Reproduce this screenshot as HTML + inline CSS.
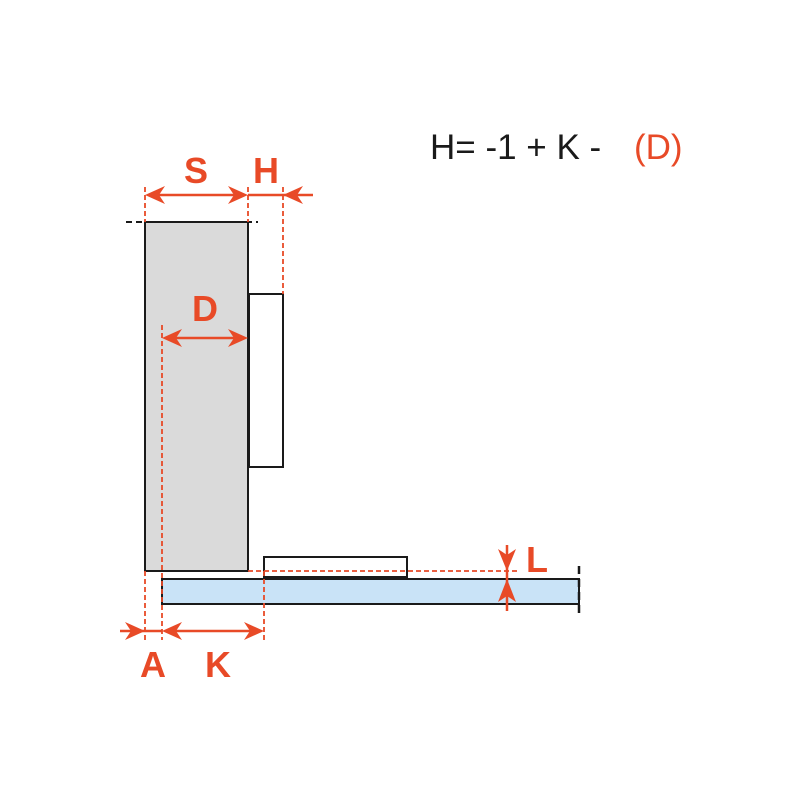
<!DOCTYPE html>
<html><head><meta charset="utf-8"><style>html,body{margin:0;padding:0;background:#fff}svg{display:block}</style></head>
<body>
<svg width="800" height="800" viewBox="0 0 800 800" xmlns="http://www.w3.org/2000/svg">
<style>
.r{stroke:#e84a27;stroke-width:2.5;fill:none}
.rd{stroke:#e84a27;stroke-width:1.8;fill:none;stroke-dasharray:5,3}
.k{stroke:#1a1a1a;stroke-width:2}
.a{fill:#e84a27}
.t{font-family:"Liberation Sans",sans-serif;font-weight:bold;fill:#e84a27;font-size:36px;text-anchor:middle}
</style>
<rect x="145" y="222" width="103" height="349" fill="#dadada" class="k"/>
<rect x="249" y="294" width="34" height="173" fill="#fff" class="k"/>
<rect x="162" y="579" width="417" height="25" fill="#c9e3f7" class="k"/>
<rect x="264" y="557" width="143" height="20" fill="#fff" class="k"/>
<line x1="126" y1="222" x2="258" y2="222" stroke="#1a1a1a" stroke-width="2" stroke-dasharray="6,4"/>
<line x1="579" y1="566" x2="579" y2="616" stroke="#1a1a1a" stroke-width="2.5" stroke-dasharray="8,5"/>
<!-- dashed red -->
<line class="rd" x1="145" y1="187" x2="145" y2="222"/>
<line class="rd" x1="248" y1="187" x2="248" y2="222"/>
<line class="rd" x1="283" y1="187" x2="283" y2="294"/>
<line class="rd" x1="162" y1="325" x2="162" y2="640"/>
<line class="rd" x1="145" y1="571" x2="145" y2="640"/>
<line class="rd" x1="264" y1="571" x2="264" y2="640"/>
<line class="rd" x1="248" y1="571" x2="517" y2="571"/>
<!-- S -->
<line class="r" x1="150" y1="195" x2="243" y2="195"/>
<polygon class="a" points="145,195 165,186 159,195 165,204"/>
<polygon class="a" points="248,195 228,186 234,195 228,204"/>
<!-- H -->
<line class="r" x1="248" y1="195" x2="313" y2="195"/>
<polygon class="a" points="283,195 303,186 297,195 303,204"/>
<!-- D -->
<line class="r" x1="166" y1="338" x2="244" y2="338"/>
<polygon class="a" points="162,338 182,329 176,338 182,347"/>
<polygon class="a" points="248,338 228,329 234,338 228,347"/>
<!-- A -->
<line class="r" x1="120" y1="631" x2="162" y2="631"/>
<polygon class="a" points="145,631 125,622 131,631 125,640"/>
<!-- K -->
<line class="r" x1="166" y1="631" x2="260" y2="631"/>
<polygon class="a" points="162,631 182,622 176,631 182,640"/>
<polygon class="a" points="264,631 244,622 250,631 244,640"/>
<!-- L -->
<line class="r" x1="507" y1="545" x2="507" y2="611"/>
<polygon class="a" points="507,571 498,549 507,555 516,549"/>
<polygon class="a" points="507,579 498,602 507,596 516,602"/>
<!-- labels -->
<text class="t" x="196" y="183">S</text>
<text class="t" x="266" y="183">H</text>
<text class="t" x="205" y="321">D</text>
<text class="t" x="153" y="677">A</text>
<text class="t" x="218" y="677">K</text>
<text class="t" x="537" y="572">L</text>
<text x="430" y="159" font-family="Liberation Sans,sans-serif" font-size="35" fill="#1a1a1a">H= -1 + K -</text>
<text x="634" y="159" font-family="Liberation Sans,sans-serif" font-size="35" fill="#e84a27">(D)</text>
</svg>
</body></html>
